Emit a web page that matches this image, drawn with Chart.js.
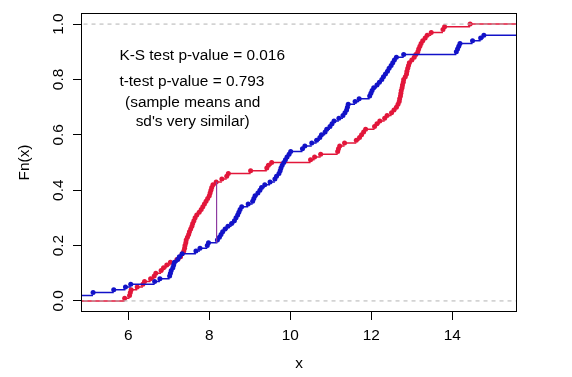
<!DOCTYPE html>
<html><head><meta charset="utf-8">
<script src="https://cdn.jsdelivr.net/npm/chart.js@4/dist/chart.umd.min.js"></script>
<style>html,body{margin:0;padding:0;background:#fff}canvas{display:block}</style>
</head><body>
<canvas id="c" width="572" height="377"></canvas>
<script>
// ---- data ----
const redSample = [5.91,6.03,6.05,6.07,6.22,6.36,6.40,6.55,6.64,6.68,
  6.81,6.87,6.95,7.04,7.20,7.29,7.33,7.37,7.39,7.40,
  7.42,7.43,7.46,7.49,7.51,7.54,7.57,7.59,7.62,7.65,
  7.69,7.75,7.80,7.84,7.88,7.92,7.96,8.00,8.02,8.04,
  8.06,8.09,8.17,8.31,8.43,8.47,9.02,9.42,9.46,9.54,
  10.50,10.60,10.75,11.17,11.19,11.22,11.34,11.63,11.71,11.76,
  11.81,11.86,12.08,12.14,12.21,12.33,12.39,12.50,12.56,12.62,
  12.66,12.69,12.70,12.72,12.73,12.74,12.76,12.77,12.79,12.80,
  12.84,12.87,12.88,12.90,12.92,12.94,13.00,13.06,13.10,13.15,
  13.17,13.20,13.23,13.27,13.33,13.38,13.48,13.77,13.81,14.44];
const blueSample = [4.30,4.62,5.13,5.64,5.93,6.06,6.65,6.78,7.02,7.04,
  7.06,7.10,7.12,7.14,7.22,7.26,7.33,7.67,7.77,7.95,
  7.98,8.20,8.25,8.29,8.33,8.39,8.46,8.55,8.62,8.66,
  8.70,8.73,8.76,8.80,8.96,9.07,9.10,9.13,9.20,9.25,
  9.29,9.37,9.50,9.62,9.66,9.72,9.75,9.77,9.80,9.84,
  9.88,9.92,9.97,10.01,10.30,10.36,10.53,10.65,10.73,10.77,
  10.86,10.90,10.98,11.03,11.08,11.20,11.30,11.35,11.39,11.41,
  11.43,11.60,11.70,11.96,11.99,12.02,12.06,12.14,12.20,12.26,
  12.30,12.35,12.40,12.44,12.49,12.53,12.57,12.62,12.80,14.10,
  14.13,14.16,14.19,14.50,14.70,14.78,15.80,16.10,16.50,17.00];
const xTicks = [6, 8, 10, 12, 14];
const xTickLabels = ["6", "8", "10", "12", "14"];
const yTicks = [0, 0.2, 0.4, 0.6, 0.8, 1.0];
const yTickLabels = ["0.0", "0.2", "0.4", "0.6", "0.8", "1.0"];
const refLevels = [0, 1];
const ksX = 8.18, ksLow = 0.21, ksHigh = 0.43;
const noteLines = ["K-S test p-value = 0.016", "t-test p-value = 0.793", "(sample means and", "sd's very similar)"];
const xTitle = "x", yTitle = "Fn(x)";

// ---- layout / style ----
const xRange = [4.832, 15.598], yRange = [-0.04, 1.04];
const noteAnchors = [
  {x: 5.78, y: 0.870, align: 'left'},
  {x: 5.78, y: 0.777, align: 'left'},
  {x: 7.59, y: 0.699, align: 'center'},
  {x: 7.59, y: 0.633, align: 'center'}
];
const RED = '#E2163A', BLUE = '#1212C8', PURPLE = '#8E3BA0', GREY = '#B3B3B3';
const FONT = {family: '"Liberation Sans", Arial, sans-serif', size: 15.4};
const FONTSTR = '15.4px "Liberation Sans", Arial, sans-serif';

function sorted(v) { return [...v].sort((a, b) => a - b); }
function ecdfSegments(v) {
  const s = sorted(v), n = s.length, lo = -100, hi = 100, out = [];
  out.push({x: lo, y: 0}, {x: s[0], y: 0}, {x: s[0], y: null});
  for (let i = 0; i < n; i++) {
    const y = (i + 1) / n, x2 = i < n - 1 ? s[i + 1] : hi;
    out.push({x: s[i], y: y}, {x: x2, y: y}, {x: x2, y: null});
  }
  return out;
}
function ecdfPoints(v) {
  const s = sorted(v), n = s.length;
  return s.map((x, i) => ({x: x, y: (i + 1) / n}));
}

const datasets = [];
refLevels.forEach(l => datasets.push({
  data: [{x: -100, y: l}, {x: 100, y: l}], showLine: true, borderColor: GREY,
  borderWidth: 1, borderDash: [4, 4], pointRadius: 0
}));
datasets.push({data: [{x: ksX, y: ksLow}, {x: ksX, y: ksHigh}], showLine: true,
  borderColor: PURPLE, borderWidth: 1.2, pointRadius: 0});
datasets.push({data: ecdfPoints(blueSample), showLine: false, pointRadius: 2.5,
  pointBackgroundColor: BLUE, pointBorderWidth: 0});
datasets.push({data: ecdfSegments(blueSample), showLine: true, spanGaps: false,
  borderColor: BLUE, borderWidth: 1.5, pointRadius: 0});
datasets.push({data: ecdfPoints(redSample), showLine: false, pointRadius: 2.5,
  pointBackgroundColor: RED, pointBorderWidth: 0});
datasets.push({data: ecdfSegments(redSample), showLine: true, spanGaps: false,
  borderColor: RED, borderWidth: 1.5, pointRadius: 0});

const decor = {
  id: 'decor',
  afterDraw(chart) {
    const ctx = chart.ctx, a = chart.chartArea, xs = chart.scales.x, ys = chart.scales.y;
    ctx.save();
    ctx.strokeStyle = '#000'; ctx.lineWidth = 1;
    ctx.strokeRect(Math.round(a.left) + 0.5, Math.round(a.top) + 0.5,
      Math.round(a.right - a.left) - 1, Math.round(a.bottom - a.top) - 1);
    ctx.fillStyle = '#000'; ctx.font = FONTSTR;
    ctx.textAlign = 'center'; ctx.textBaseline = 'middle';
    yTicks.forEach((v, i) => {
      ctx.save();
      ctx.translate(a.left - 22.4, ys.getPixelForValue(v));
      ctx.rotate(-Math.PI / 2);
      ctx.fillText(yTickLabels[i], 0, 0);
      ctx.restore();
    });
    ctx.textBaseline = 'alphabetic';
    noteLines.forEach((t, i) => {
      const an = noteAnchors[i];
      ctx.textAlign = an.align;
      ctx.fillText(t, xs.getPixelForValue(an.x), ys.getPixelForValue(an.y));
    });
    ctx.restore();
  }
};

new Chart(document.getElementById('c'), {
  type: 'scatter',
  data: {datasets: datasets},
  options: {
    responsive: false, animation: false, devicePixelRatio: 1,
    layout: {padding: {left: 0, right: 55, top: 13, bottom: 0}},
    plugins: {legend: {display: false}, tooltip: {enabled: false}},
    scales: {
      x: {
        type: 'linear', min: xRange[0], max: xRange[1],
        afterBuildTicks: s => { s.ticks = xTicks.map(v => ({value: v})); },
        afterFit: s => { s.height = 65; },
        ticks: {font: FONT, color: '#000', padding: 7, maxRotation: 0, autoSkip: false,
          callback: (v) => xTickLabels[xTicks.indexOf(v)]},
        grid: {display: true, drawOnChartArea: false, drawTicks: true, tickLength: 8,
          color: '#000', tickColor: '#000', lineWidth: 1},
        border: {display: false},
        title: {display: true, text: xTitle, font: FONT, color: '#000', padding: {top: 0, bottom: 4}}
      },
      y: {
        type: 'linear', min: yRange[0], max: yRange[1],
        afterBuildTicks: s => { s.ticks = yTicks.map(v => ({value: v})); },
        afterFit: s => { s.width = 81; },
        ticks: {display: false},
        grid: {display: true, drawOnChartArea: false, drawTicks: true, tickLength: 8,
          color: '#000', tickColor: '#000', lineWidth: 1},
        border: {display: false},
        title: {display: true, text: yTitle, font: FONT, color: '#000', padding: {top: 15.8, bottom: 0}}
      }
    }
  },
  plugins: [decor]
});
</script>
</body></html>
